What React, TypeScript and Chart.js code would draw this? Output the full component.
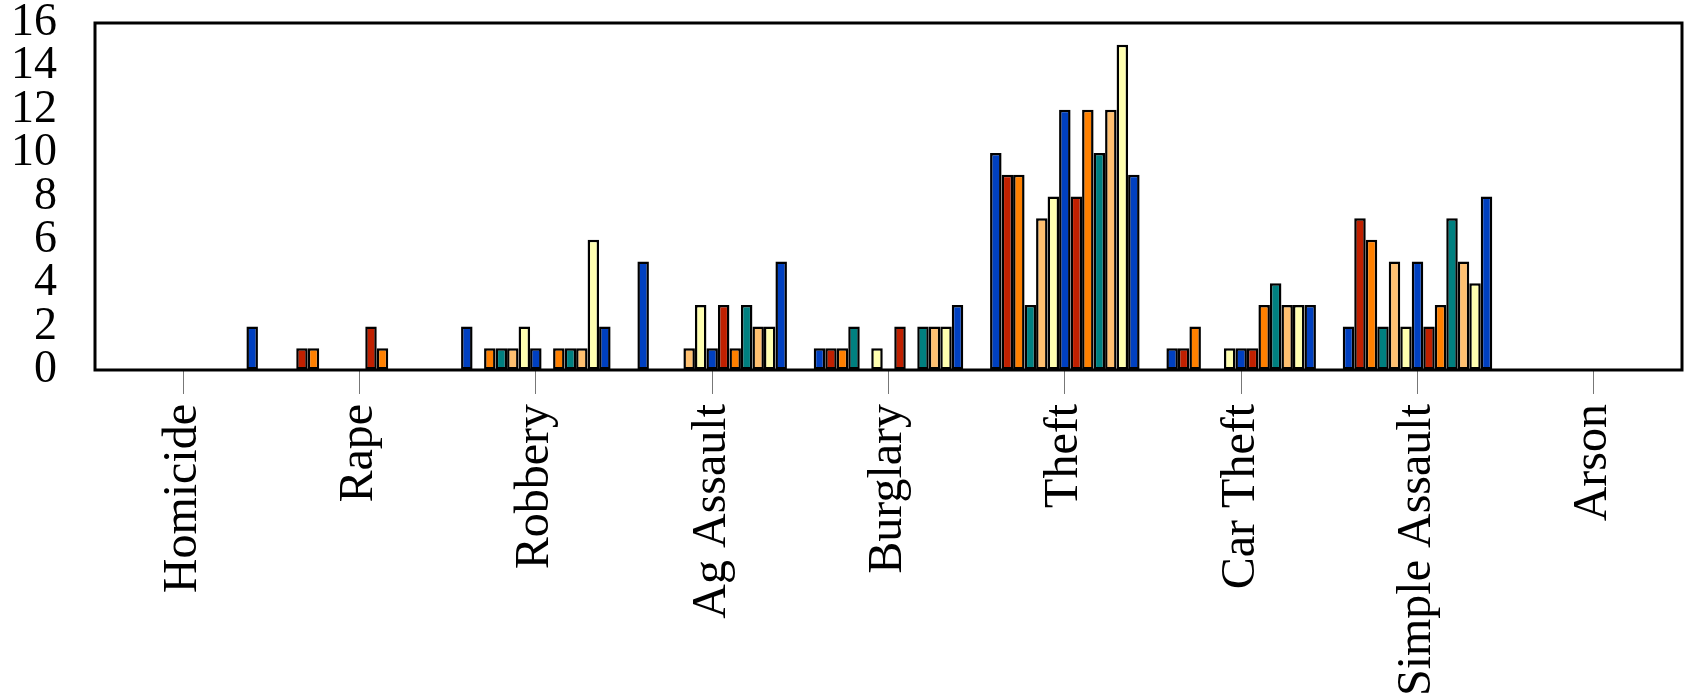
import React, { useEffect, useRef } from "react";
import { Chart, registerables } from "chart.js";

Chart.register(...registerables);

const categories = [
  "Homicide",
  "Rape",
  "Robbery",
  "Ag Assault",
  "Burglary",
  "Theft",
  "Car Theft",
  "Simple Assault",
  "Arson",
];

const seriesLabels = [
  "P1", "P2", "P3", "P4", "P5", "P6", "P7", "P8", "P9", "P10", "P11", "P12", "P13",
];

const p1 = [0, 0, 2, 5, 1, 10, 1, 2, 0];
const p2 = [0, 1, 0, 0, 1, 9, 1, 7, 0];
const p3 = [0, 1, 1, 0, 1, 9, 2, 6, 0];
const p4 = [0, 0, 1, 0, 2, 3, 0, 2, 0];
const p5 = [0, 0, 1, 1, 0, 7, 0, 5, 0];
const p6 = [0, 0, 2, 3, 1, 8, 1, 2, 0];
const p7 = [0, 0, 1, 1, 0, 12, 1, 5, 0];
const p8 = [0, 2, 0, 3, 2, 8, 1, 2, 0];
const p9 = [0, 1, 1, 1, 0, 12, 3, 3, 0];
const p10 = [0, 0, 1, 3, 2, 10, 4, 7, 0];
const p11 = [0, 0, 1, 2, 2, 12, 3, 5, 0];
const p12 = [0, 0, 6, 2, 2, 15, 3, 4, 0];
const p13 = [2, 0, 2, 5, 3, 9, 3, 8, 0];

const seriesValues = [p1, p2, p3, p4, p5, p6, p7, p8, p9, p10, p11, p12, p13];

const palette = ["#0040c0", "#c02000", "#ff8000", "#008080", "#ffc070", "#ffffb0"];

const yTicks = [0, 2, 4, 6, 8, 10, 12, 14, 16];

const framePlugin = {
  id: "frame",
  afterDraw(chart: any) {
    const { ctx, chartArea } = chart;
    ctx.save();
    ctx.strokeStyle = "#000";
    ctx.lineWidth = 3;
    ctx.strokeRect(
      chartArea.left,
      chartArea.top,
      chartArea.right - chartArea.left,
      chartArea.bottom - chartArea.top
    );
    ctx.restore();
  },
};

export default function App() {
  const canvasRef = useRef<HTMLCanvasElement | null>(null);

  useEffect(() => {
    document.body.style.margin = "0";
    const canvas = canvasRef.current;
    if (!canvas) return;
    const font = "'Liberation Serif', 'Times New Roman', serif";
    const chart = new Chart(canvas, {
      type: "bar",
      data: {
        labels: categories,
        datasets: seriesValues.map((vals, i) => ({
          label: seriesLabels[i],
          data: vals,
          backgroundColor: palette[i % palette.length],
          borderColor: "#000",
          borderWidth: 2.5,
          borderSkipped: false,
          categoryPercentage: 0.848,
          barPercentage: 1.0,
        })),
      },
      options: {
        animation: false,
        responsive: true,
        maintainAspectRatio: false,
        layout: { padding: { left: 11, right: 2, top: 0, bottom: -10 } },
        plugins: {
          legend: { display: false },
          tooltip: { enabled: false },
          title: { display: false },
        },
        scales: {
          x: {
            offset: true,
            grid: {
              display: true,
              drawOnChartArea: false,
              drawTicks: true,
              tickLength: 24,
              color: "#777",
              lineWidth: 1,
              offset: false,
            },
            border: { display: false },
            ticks: {
              autoSkip: false,
              maxRotation: 90,
              minRotation: 90,
              padding: 10,
              color: "#000",
              font: { family: font, size: 48, lineHeight: 1.0 },
            },
          },
          y: {
            min: 0,
            max: 16,
            afterBuildTicks: (scale: any) => {
              scale.ticks = yTicks.map((v) => ({ value: v }));
            },
            grid: {
              display: true,
              drawOnChartArea: false,
              drawTicks: true,
              tickLength: 38,
              color: "rgba(0,0,0,0)",
            },
            border: { display: false },
            ticks: {
              autoSkip: false,
              padding: 0,
              color: "#000",
              font: { family: font, size: 46, lineHeight: 1.0 },
            },
          },
        },
      },
      plugins: [framePlugin],
    });
    return () => chart.destroy();
  }, []);

  return (
    <div style={{ width: "1684px", height: "696px", position: "relative" }}>
      <canvas ref={canvasRef} />
    </div>
  );
}
